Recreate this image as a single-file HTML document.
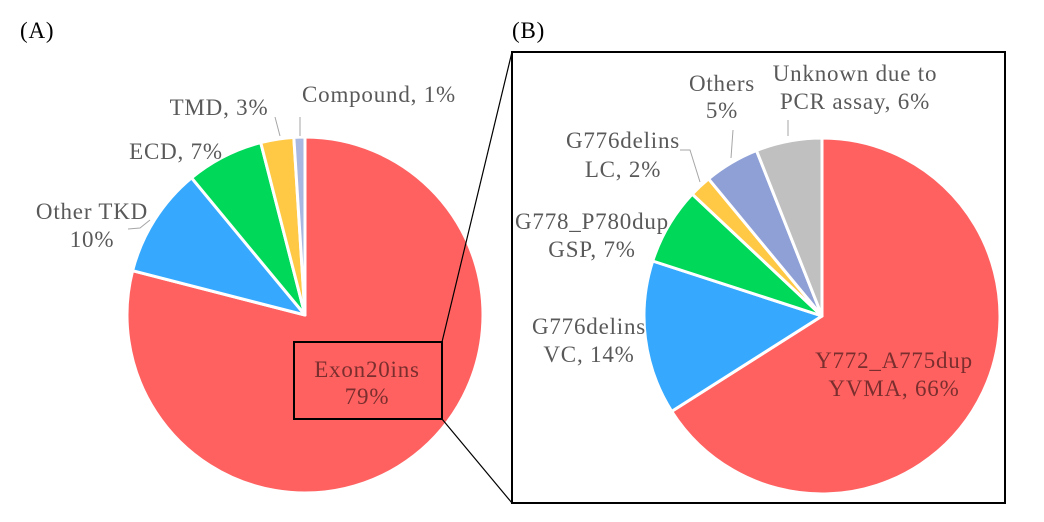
<!DOCTYPE html>
<html><head><meta charset="utf-8"><style>
html,body{margin:0;padding:0;background:#fff}
svg{display:block}
text{font-family:"Liberation Serif",serif;font-size:23px;letter-spacing:0.8px;fill:#595959}
</style></head><body>
<svg id="s" width="1044" height="522" viewBox="0 0 1044 522">
<g id="pa"></g><g id="pb"></g>
<text x="20" y="38" style="fill:#000">(A)</text>
<text x="512" y="38" style="fill:#000">(B)</text>
<rect x="294" y="342" width="148" height="77" fill="none" stroke="#000" stroke-width="2"/>
<rect x="512" y="52" width="493" height="451" fill="none" stroke="#000" stroke-width="2"/>
<line x1="442" y1="342" x2="512" y2="52" stroke="#000" stroke-width="1.2"/>
<line x1="442" y1="419" x2="512" y2="503" stroke="#000" stroke-width="1.2"/>
<g text-anchor="middle">
<text x="379" y="102">Compound, 1%</text>
<text x="219" y="115">TMD, 3%</text>
<text x="176" y="159">ECD, 7%</text>
<text x="92" y="219">Other TKD</text>
<text x="92" y="247">10%</text>
<text x="367" y="377" style="fill:#7a2e2e">Exon20ins</text>
<text x="367" y="404" style="fill:#7a2e2e">79%</text>
<text x="722" y="91">Others</text>
<text x="722" y="118">5%</text>
<text x="855" y="81">Unknown due to</text>
<text x="855" y="109">PCR assay, 6%</text>
<text x="623" y="148">G776delins</text>
<text x="623" y="177">LC, 2%</text>
<text x="592" y="229">G778_P780dup</text>
<text x="592" y="257">GSP, 7%</text>
<text x="589" y="334">G776delins</text>
<text x="589" y="362">VC, 14%</text>
<text x="894" y="368" style="fill:#7a2e2e">Y772_A775dup</text>
<text x="894" y="396" style="fill:#7a2e2e">YVMA, 66%</text>
</g>
<g stroke="#a6a6a6" stroke-width="1" fill="none">
<polyline points="275,117 280,136"/>
<polyline points="300,117 300,136"/>
<polyline points="128,229 140,228 150,220"/>
<polyline points="680,150 690,150 700,182"/>
<polyline points="733,130 731,158"/>
<polyline points="788,120 788,136"/>
</g>
</svg>
<script>
function pie(id,cx,cy,r,vals,cols){
  var g=document.getElementById(id),a=0,h='';
  for(var i=0;i<vals.length;i++){
    var a0=a,a1=a+vals[i]/100*2*Math.PI;a=a1;
    var x0=cx+r*Math.sin(a0),y0=cy-r*Math.cos(a0),x1=cx+r*Math.sin(a1),y1=cy-r*Math.cos(a1);
    var lg=(a1-a0)>Math.PI?1:0;
    h+='<path d="M'+cx+','+cy+' L'+x0+','+y0+' A'+r+','+r+' 0 '+lg+' 1 '+x1+','+y1+' Z" fill="'+cols[i]+'" stroke="#fff" stroke-width="3" stroke-linejoin="round"/>';
  }
  g.innerHTML=h;
}
pie('pa',305,315,178,[79,10,7,3,1],['#ff6161','#36a9ff','#00d85a','#ffc845','#a9b8e0']);
pie('pb',822,316,178,[66,14,7,2,5,6],['#ff6161','#36a9ff','#00d85a','#ffc845','#8fa0d6','#c0c0c0']);
</script>
</body></html>
